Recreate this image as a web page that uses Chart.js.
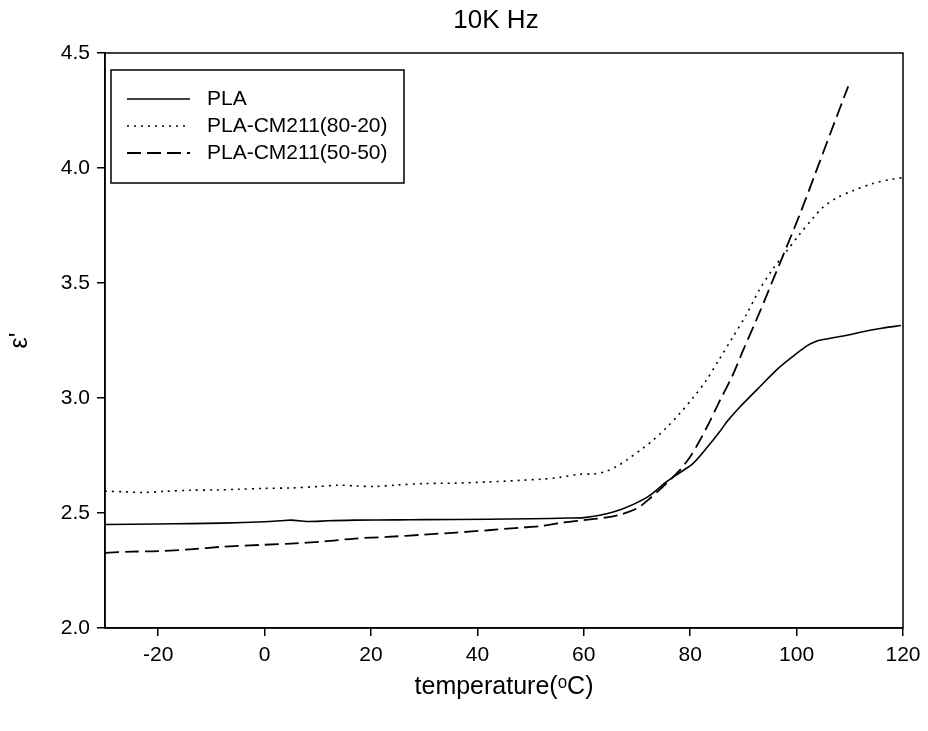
<!DOCTYPE html>
<html>
<head>
<meta charset="utf-8">
<script src="https://cdn.jsdelivr.net/npm/chart.js@4"></script>
<style>
  html, body { margin: 0; padding: 0; background: #fff; }
  #wrap { width: 928px; height: 731px; }
</style>
</head>
<body>
<div id="wrap"><canvas id="c" width="928" height="731"></canvas></div>
<script>
// ---- data ----
const chartTitle = "10K Hz";
const xTitle = "temperature(\u1D52C)";
const yTitle = "\u03B5'";
const xTicks = [-20, 0, 20, 40, 60, 80, 100, 120];
const yTicks = [2.0, 2.5, 3.0, 3.5, 4.0, 4.5];
const seriesLabels = ["PLA", "PLA-CM211(80-20)", "PLA-CM211(50-50)"];

const plaT = [-30,-20,-14,-8,0,3,5,8,12,17,25,30,42,50,57,60,63,67,72,75.5,78,80.5,83,85.5,87,89.3,93,96.8,99.9,102,103.5,105,107.4,110,112,116,119.6];
const plaE = [2.450,2.452,2.454,2.456,2.462,2.466,2.469,2.463,2.466,2.469,2.470,2.471,2.473,2.475,2.478,2.480,2.490,2.515,2.570,2.635,2.675,2.715,2.780,2.852,2.900,2.960,3.047,3.134,3.192,3.228,3.245,3.254,3.264,3.275,3.286,3.303,3.315];

const m82T = [-30,-26,-23,-19,-14,-9,-5,0,5,10,14,17,20.5,25,30,36,42,48,52,55.5,59,62,64,66,68,71,73,75.5,78,80.5,83,85.5,88,90.5,93,95.5,98,100.6,103,104.9,107.5,110.6,114,118,120];
const m82E = [2.595,2.592,2.589,2.594,2.599,2.600,2.603,2.607,2.609,2.615,2.621,2.618,2.615,2.622,2.628,2.630,2.635,2.642,2.647,2.655,2.668,2.670,2.680,2.700,2.729,2.780,2.816,2.870,2.932,3.000,3.076,3.170,3.264,3.360,3.470,3.560,3.635,3.713,3.780,3.828,3.870,3.901,3.930,3.952,3.958];

const m55T = [-30,-25,-20,-14,-8,0,5,11,17,23,30,36,42,48,52,56,60,64,67,70,72,75.5,78,80,81.8,83.5,85.5,88,90,93,95.5,98,100.8,103.5,106.5,109.7];
const m55E = [2.327,2.332,2.334,2.342,2.353,2.362,2.367,2.376,2.389,2.396,2.406,2.415,2.425,2.436,2.443,2.458,2.469,2.480,2.494,2.520,2.555,2.628,2.685,2.745,2.815,2.890,2.985,3.100,3.210,3.370,3.510,3.650,3.810,3.975,4.160,4.355];

const FONT = "'Liberation Sans', Arial, sans-serif";
const pts = (T, E) => T.map((t, i) => ({ x: t, y: E[i] }));

const framePlugin = {
  id: 'frame',
  afterDraw(chart) {
    const { ctx, chartArea: a } = chart;
    ctx.save();
    ctx.strokeStyle = '#000';
    ctx.lineWidth = 1.5;
    ctx.setLineDash([]);
    ctx.strokeRect(a.left, a.top, a.right - a.left, a.bottom - a.top);
    ctx.restore();
  }
};

const titlePlugin = {
  id: 'ctitle',
  afterDraw(chart) {
    const ctx = chart.ctx;
    ctx.save();
    ctx.fillStyle = '#000';
    ctx.font = "26px " + FONT;
    ctx.textAlign = 'center';
    ctx.textBaseline = 'middle';
    ctx.fillText(chartTitle, 496, 21);
    ctx.restore();
  }
};

const legendPlugin = {
  id: 'boxLegend',
  afterDraw(chart) {
    const ctx = chart.ctx;
    const a = chart.chartArea;
    const bx = a.left + 6, by = a.top + 17, bw = 293, bh = 113;
    ctx.save();
    ctx.fillStyle = '#fff';
    ctx.fillRect(bx, by, bw, bh);
    ctx.strokeStyle = '#000';
    ctx.lineWidth = 1.5;
    ctx.setLineDash([]);
    ctx.strokeRect(bx, by, bw, bh);
    ctx.font = "21px " + FONT;
    ctx.textBaseline = 'middle';
    ctx.fillStyle = '#000';
    chart.data.datasets.forEach((ds, i) => {
      const y = by + 29 + i * 27;
      ctx.beginPath();
      ctx.setLineDash(ds.borderDash || []);
      ctx.lineWidth = ds.borderWidth;
      ctx.moveTo(bx + 16, y);
      ctx.lineTo(bx + 79, y);
      ctx.stroke();
      ctx.setLineDash([]);
      ctx.fillText(ds.label, bx + 96, y);
    });
    ctx.restore();
  }
};

new Chart(document.getElementById('c'), {
  type: 'line',
  data: {
    datasets: [
      { label: seriesLabels[0], data: pts(plaT, plaE), borderColor: '#000', borderWidth: 1.6, borderDash: [], pointRadius: 0, tension: 0.3, fill: false },
      { label: seriesLabels[1], data: pts(m82T, m82E), borderColor: '#000', borderWidth: 1.6, borderDash: [2, 5], pointRadius: 0, tension: 0.3, fill: false },
      { label: seriesLabels[2], data: pts(m55T, m55E), borderColor: '#000', borderWidth: 1.8, borderDash: [14, 6], pointRadius: 0, tension: 0.3, fill: false }
    ]
  },
  options: {
    responsive: false,
    animation: false,
    devicePixelRatio: 1,
    layout: { padding: { top: 53, right: 25, left: 0, bottom: 0 } },
    plugins: {
      legend: { display: false },
      title: { display: false },
      tooltip: { enabled: false }
    },
    scales: {
      x: {
        type: 'linear',
        min: -30, max: 120,
        afterBuildTicks(s) { s.ticks = xTicks.map(v => ({ value: v })); },
        afterFit(s) { s.height = 103; },
        grid: { drawOnChartArea: false, drawTicks: true, tickLength: 8, color: '#000', lineWidth: 1.5 },
        border: { display: true, color: '#000', width: 1.5 },
        ticks: { color: '#000', font: { size: 21, family: FONT }, padding: 7, maxRotation: 0 },
        title: { display: true, text: xTitle, color: '#000', font: { size: 25, family: FONT }, padding: { top: 0, bottom: 29 } }
      },
      y: {
        type: 'linear',
        min: 2.0, max: 4.5,
        afterBuildTicks(s) { s.ticks = yTicks.map(v => ({ value: v })); },
        afterFit(s) { s.width = 105; },
        grid: { drawOnChartArea: false, drawTicks: true, tickLength: 8, color: '#000', lineWidth: 1.5 },
        border: { display: true, color: '#000', width: 1.5 },
        ticks: { color: '#000', font: { size: 21, family: FONT }, padding: 7, callback: v => Number(v).toFixed(1) },
        title: { display: true, text: yTitle, color: '#000', font: { size: 25, family: FONT }, padding: { top: 5, bottom: 0 } }
      }
    }
  },
  plugins: [framePlugin, titlePlugin, legendPlugin]
});
</script>
</body>
</html>
